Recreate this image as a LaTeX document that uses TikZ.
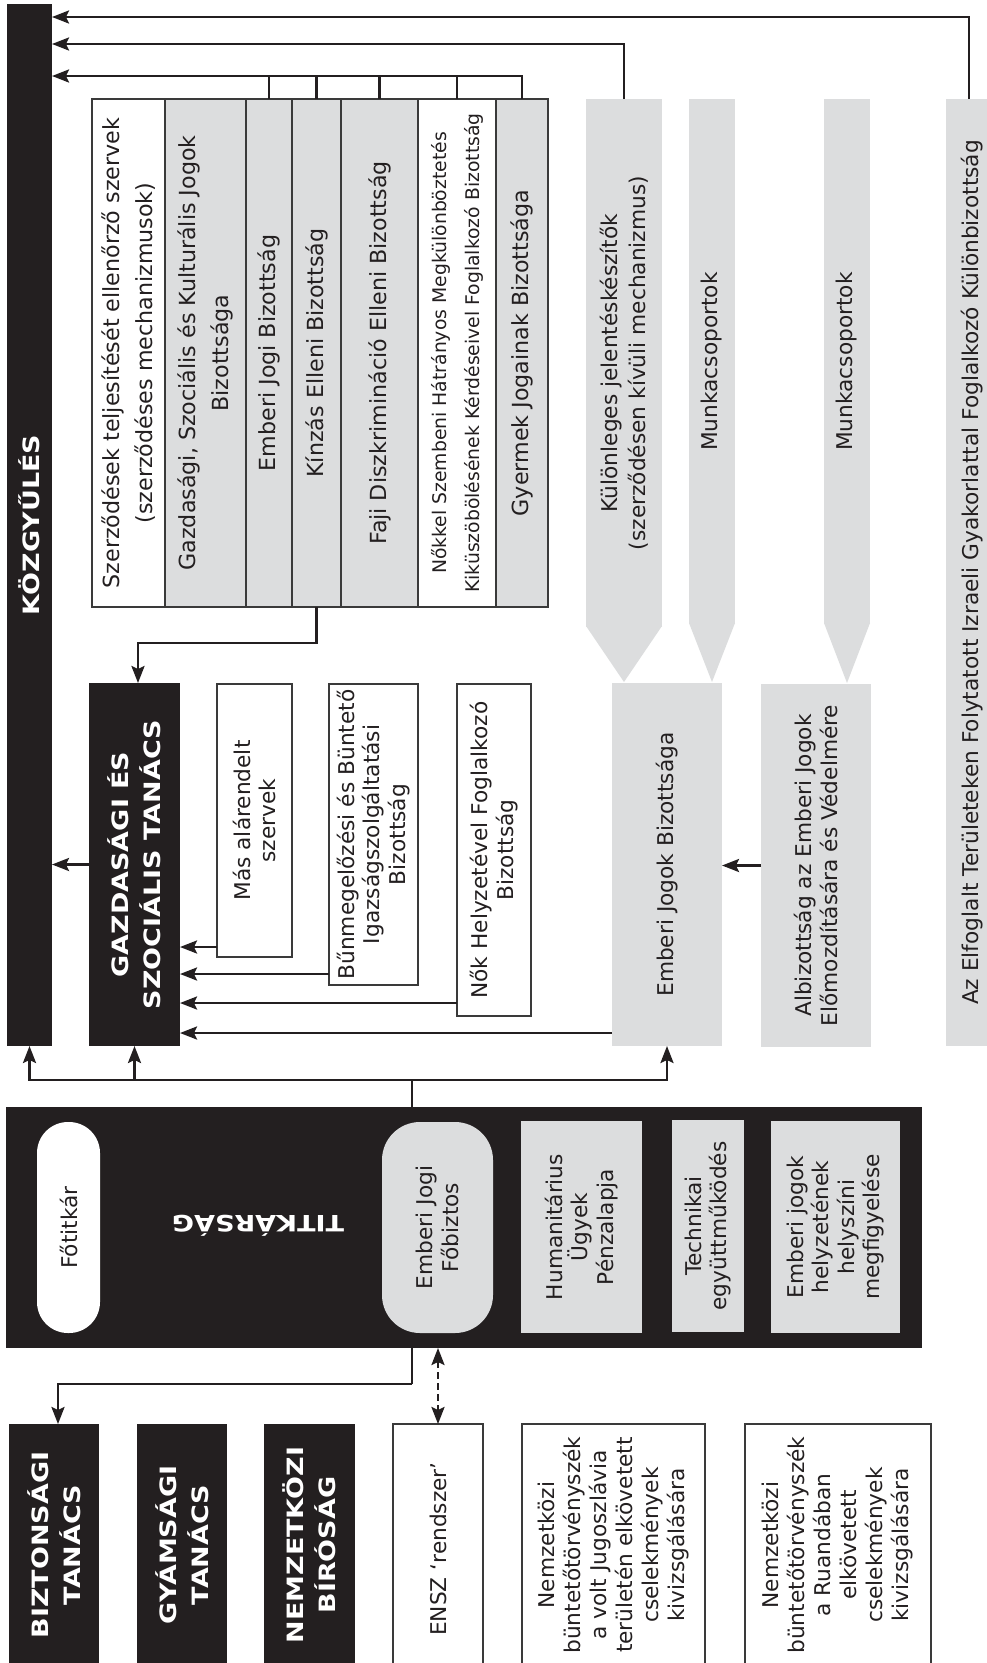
\documentclass[tikz,border=0pt]{standalone}
\usepackage{fontspec}
\setmainfont{DejaVu Sans}
\newfontfamily\bfont[FakeStretch=1.2]{DejaVu Sans Bold}
\usetikzlibrary{arrows.meta}
\definecolor{ink}{HTML}{231F20}
\definecolor{lgray}{HTML}{DCDDDE}
\definecolor{edge}{HTML}{3A3A3A}
\newcommand\mybox[6]{\node[#1, anchor=north west, minimum width={(#4)-(#2)}, minimum height={(#5)-(#3)}] (#6) at (#2,#3) {};}
\begin{document}
\begin{tikzpicture}[x=1pt,y=-1pt,
  every node/.style={inner sep=0pt, outer sep=0pt},
  blk/.style={fill=ink, draw=none},
  gbox/.style={fill=lgray, draw=none},
  wbox/.style={fill=white, draw=edge, line width=1.5pt},
  tcol/.style={draw=edge, line width=1.8pt},
  conn/.style={draw=ink, line width=2.6pt},
  tipk/.tip={Stealth[length=17pt,width=13pt,inset=3pt]},
  arr/.style={conn, -tipk},
  lab/.style={text=ink, align=center, font=\fontsize{21.7}{25.5}\selectfont},
  tlab/.style={text=ink, align=center, font=\fontsize{22.2}{33}\selectfont},
  blab/.style={text=white, align=center, font=\bfont\fontsize{22.5}{32}\selectfont},
]
\useasboundingbox (0,0) rectangle (987,1663);
\fill[white] (0,0) rectangle (987,1663);

% General Assembly
\mybox{blk}{7}{4}{52}{1046}{kozgy}
\node[blab, rotate=90] (t-kozgy) at (kozgy.center) {KÖZGYŰLÉS};

% treaty bodies
\mybox{tcol,fill=white}{92}{99}{165}{607}{c1}
\mybox{tcol,fill=lgray}{165}{99}{246}{607}{c2}
\mybox{tcol,fill=lgray}{246}{99}{292}{607}{c3}
\mybox{tcol,fill=lgray}{292}{99}{341}{607}{c4}
\mybox{tcol,fill=lgray}{341}{99}{418}{607}{c5}
\mybox{tcol,fill=white}{418}{99}{496}{607}{c6}
\mybox{tcol,fill=lgray}{496}{99}{548}{607}{c7}
\node[tlab, rotate=90] (t-c1) at (c1.center) {Szerződések teljesítését ellenőrző szervek\\(szerződéses mechanizmusok)};
\node[tlab, rotate=90] (t-c2) at (c2.center) {Gazdasági, Szociális és Kulturális Jogok\\Bizottsága};
\node[tlab, rotate=90] (t-c3) at (c3.center) {Emberi Jogi Bizottság};
\node[tlab, rotate=90] (t-c4) at (c4.center) {Kínzás Elleni Bizottság};
\node[tlab, rotate=90] (t-c5) at (c5.center) {Faji Diszkrimináció Elleni Bizottság};
\node[tlab, rotate=90, font=\fontsize{18.8}{33}\selectfont] (t-c6) at (c6.center) {Nőkkel Szembeni Hátrányos Megkülönböztetés\\Kiküszöbölésének Kérdéseivel Foglalkozó Bizottság};
\node[tlab, rotate=90] (t-c7) at (c7.center) {Gyermek Jogainak Bizottsága};

% gray arrow shapes
\mybox{gbox}{586}{99}{662}{627}{kul}
\fill[lgray] ([yshift=1pt]kul.south west) -- ([yshift=1pt]kul.south east) -- (624,682) -- cycle;
\node[lab, rotate=90, font=\fontsize{21.7}{28}\selectfont] (t-kul) at (kul.center) {Különleges jelentéskészítők\\(szerződésen kívüli mechanizmus)};
\mybox{gbox}{689}{99}{735}{624}{mk1}
\fill[lgray] ([yshift=1pt]mk1.south west) -- ([yshift=1pt]mk1.south east) -- (712,682) -- cycle;
\node[lab, rotate=90] (t-mk1) at (mk1.center) {Munkacsoportok};
\mybox{gbox}{824}{99}{870}{624}{mk2}
\fill[lgray] ([yshift=1pt]mk2.south west) -- ([yshift=1pt]mk2.south east) -- (847,683) -- cycle;
\node[lab, rotate=90] (t-mk2) at (mk2.center) {Munkacsoportok};
\mybox{gbox}{946}{99}{992}{1046}{az}
\node[lab, rotate=90] (t-az) at ([xshift=3pt]az.center) {Az Elfoglalt Területeken Folytatott Izraeli Gyakorlattal Foglalkozó Különbizottság};

% top connectors
\coordinate (ytop) at (0,17);
\coordinate (ymid) at (0,44);
\coordinate (ylow) at (0,76);
\draw[arr] (az.north) |- (kozgy.east |- ytop);
\draw[arr] (kul.north) |- (kozgy.east |- ymid);
\draw[arr] (c7.north) |- (kozgy.east |- ylow);
\foreach \c in {c3,c4,c5,c6} \draw[conn] (\c.north) -- (\c.north |- ylow);

% ECOSOC
\mybox{blk}{89}{683}{180}{1046}{gszt}
\node[blab, rotate=90] (t-gszt) at (gszt.center) {GAZDASÁGI ÉS\\SZOCIÁLIS TANÁCS};
\coordinate (ytg) at (0,643);
\coordinate (gx) at (138,0);
\draw[arr] (c4.south) |- (ytg -| gx) -- (gszt.north -| gx);
\draw[arr] (gszt.west) -- (kozgy.east |- gszt.west);

\mybox{wbox}{217}{684}{292}{957}{mas}
\node[lab, rotate=90] (t-mas) at (mas.center) {Más alárendelt\\szervek};
\mybox{wbox}{329}{684}{418}{985}{bun}
\node[lab, rotate=90] (t-bun) at (bun.center) {Bűnmegelőzési és Büntető\\Igazságszolgáltatási\\Bizottság};
\mybox{wbox}{457}{684}{531}{1016}{nok}
\node[lab, rotate=90] (t-nok) at (nok.center) {Nők Helyzetével Foglalkozó\\Bizottság};
\mybox{gbox}{612}{683}{722}{1046}{ejb}
\node[lab, rotate=90] (t-ejb) at (ejb.center) {Emberi Jogok Bizottsága};
\mybox{gbox}{761}{684}{871}{1047}{alb}
\node[lab, rotate=90] (t-alb) at (alb.center) {Albizottság az Emberi Jogok\\Előmozdítására és Védelmére};

\coordinate (ya) at (0,947);
\coordinate (yb) at (0,974);
\coordinate (yc) at (0,1003);
\coordinate (yd) at (0,1033);
\draw[arr] (mas.west |- ya) -- (gszt.east |- ya);
\draw[arr] (bun.west |- yb) -- (gszt.east |- yb);
\draw[arr] (nok.west |- yc) -- (gszt.east |- yc);
\draw[arr] (ejb.west |- yd) -- (gszt.east |- yd);
\draw[arr] (alb.west) -- (ejb.east |- alb.west);

% Secretariat
\mybox{blk}{6}{1107}{922}{1348}{tit}
\mybox{fill=white, rounded corners=31pt}{37}{1122}{100}{1333}{fotit}
\node[lab, rotate=90] (t-fotit) at (fotit.center) {Főtitkár};
\node[blab, rotate=180] (t-tit) at (258,1226) {TITKÁRSÁG};
\mybox{fill=lgray, rounded corners=38pt}{382}{1122}{493}{1333}{fob}
\node[lab, rotate=90] (t-fob) at (fob.center) {Emberi Jogi\\Főbiztos};
\mybox{gbox}{521}{1121}{642}{1333}{hum}
\node[lab, rotate=90] (t-hum) at (hum.center) {Humanitárius\\Ügyek\\Pénzalapja};
\mybox{gbox}{672}{1120}{744}{1332}{tech}
\node[lab, rotate=90] (t-tech) at (tech.center) {Technikai\\együttműködés};
\mybox{gbox}{771}{1121}{900}{1333}{megf}
\node[lab, rotate=90] (t-megf) at (megf.center) {Emberi jogok\\helyzetének\\helyszíni\\megfigyelése};

\coordinate (j1) at (412,1080);
\draw[conn] (tit.north -| j1) -- (j1);
\draw[arr] (j1) -| (kozgy.south);
\draw[arr] (j1) -| (gszt.south);
\draw[arr] (j1) -| (ejb.south);

% bottom row
\mybox{blk}{9}{1424}{99}{1680}{bizt}
\node[blab, rotate=90] (t-bizt) at (54,1545) {BIZTONSÁGI\\TANÁCS};
\mybox{blk}{137}{1424}{227}{1680}{gyam}
\node[blab, rotate=90] (t-gyam) at (182,1545) {GYÁMSÁGI\\TANÁCS};
\mybox{blk}{264}{1424}{355}{1680}{nemz}
\node[blab, rotate=90] (t-nemz) at (309.5,1545) {NEMZETKÖZI\\BÍRÓSÁG};
\mybox{wbox}{393}{1424}{483}{1680}{ensz}
\node[lab, rotate=90] (t-ensz) at (438,1549) {ENSZ `rendszer'};
\mybox{wbox}{522}{1424}{705}{1680}{jug}
\node[lab, rotate=90, font=\fontsize{21.7}{26}\selectfont] (t-jug) at (613.5,1545) {Nemzetközi\\büntetőtörvényszék\\a volt Jugoszlávia\\területén elkövetett\\cselekmények\\kivizsgálására};
\mybox{wbox}{745}{1424}{931}{1680}{rua}
\node[lab, rotate=90, font=\fontsize{21.7}{26}\selectfont] (t-rua) at (838,1545) {Nemzetközi\\büntetőtörvényszék\\a Ruandában\\elkövetett\\cselekmények\\kivizsgálására};

\coordinate (j2) at (412,1384);
\draw[conn] (tit.south -| j2) -- (j2);
\draw[arr] (j2) -| ([xshift=4pt]bizt.north);
\draw[conn, dash pattern=on 7pt off 4pt, tipk-tipk] (tit.south -| ensz.north) -- (ensz.north);
\end{tikzpicture}
\end{document}
